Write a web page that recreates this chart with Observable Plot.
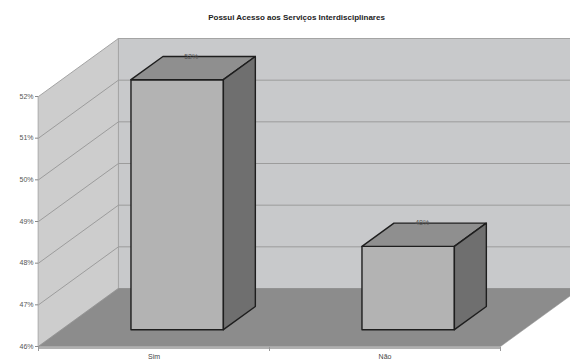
<!DOCTYPE html>
<html>
<head>
<meta charset="utf-8">
<script src="https://cdn.jsdelivr.net/npm/d3@7"></script>
<script src="https://cdn.jsdelivr.net/npm/@observablehq/plot@0.6"></script>
<style>
  html, body { margin: 0; padding: 0; background: #fff; overflow: hidden; }
  svg { display: block; }
</style>
</head>
<body>
<div id="chart"></div>
<script>
// Survey answers: access to interdisciplinary services
const title = "Possui Acesso aos Serviços Interdisciplinares";
const categories = ["Sim", "Não"];
const values = [52, 48];
const yTicks = [46, 47, 48, 49, 50, 51, 52];

// Oblique 3D projection: depth d in [0, 1] shifts right (category units) and up (percent units)
const DX = 0.346;
const DY = 1.392;
const Y0 = yTicks[0];
const YTOP = yTicks[yTicks.length - 1];
const N = categories.length;
const HW = 0.2;          // half width of a bar, in category units
const D0 = 0.29, D1 = 0.69; // bar depth extent
const proj = (x, d, y) => ({x: x + d * DX, y: y + d * DY});

function polygon(id, pts) {
  return pts.map(([x, d, y]) => ({id, ...proj(x, d, y)}));
}

// walls and floor
const backWall = polygon("back", [[0, 1, Y0], [N, 1, Y0], [N, 1, YTOP], [0, 1, YTOP]]);
const sideWall = polygon("side", [[0, 0, Y0], [0, 1, Y0], [0, 1, YTOP], [0, 0, YTOP]]);
const floor = polygon("floor", [[0, 0, Y0], [N, 0, Y0], [N, 1, Y0], [0, 1, Y0]]);

// gridlines run across the side wall and the back wall
const grid = yTicks.slice(1, -1).flatMap(t =>
  [[0, 0, t], [0, 1, t], [N, 1, t]].map(([x, d, y]) => ({t, ...proj(x, d, y)})));

// bar faces
const bars = categories.map((c, i) => ({c, v: values[i], cx: i + 0.5}));
const fronts = bars.flatMap(b => polygon(b.c, [
  [b.cx - HW, D0, Y0], [b.cx + HW, D0, Y0], [b.cx + HW, D0, b.v], [b.cx - HW, D0, b.v]]));
const tops = bars.flatMap(b => polygon(b.c, [
  [b.cx - HW, D0, b.v], [b.cx + HW, D0, b.v], [b.cx + HW, D1, b.v], [b.cx - HW, D1, b.v]]));
const sides = bars.flatMap(b => polygon(b.c, [
  [b.cx + HW, D0, Y0], [b.cx + HW, D1, Y0], [b.cx + HW, D1, b.v], [b.cx + HW, D0, b.v]]));
const labels = bars.map(b => ({text: b.v + "%", ...proj(b.cx, D1, b.v)}));

const poly = {x: "x", y: "y", z: "id", curve: "linear-closed"};

const chart = Plot.plot({
  width: 570,
  height: 363,
  marginLeft: 38,
  marginRight: 70,
  marginTop: 96,
  marginBottom: 17,
  x: {domain: [0, N]},
  y: {domain: [Y0, YTOP]},
  style: {fontFamily: "'Liberation Sans', Arial, sans-serif", background: "#fff", overflow: "hidden"},
  marks: [
    Plot.line(backWall, {...poly, fill: "#c8c9cb", stroke: "#a4a4a4", strokeWidth: 1}),
    Plot.line(sideWall, {...poly, fill: "#cdcdcd", stroke: "#a4a4a4", strokeWidth: 1}),
    Plot.line(grid, {x: "x", y: "y", z: "t", stroke: "#9c9c9c", strokeWidth: 1}),
    Plot.line(floor, {...poly, fill: "#8c8c8c", stroke: "#8c8c8c", strokeWidth: 0.5}),
    Plot.ruleY([Y0], {x1: 0, x2: N, stroke: "#b0b0b0", strokeWidth: 2, dy: 1.5}),
    Plot.line(fronts, {...poly, fill: "#b3b3b3", stroke: "#1e1e1e", strokeWidth: 1.4}),
    Plot.line(tops, {...poly, fill: "#8f8f8f", stroke: "#1e1e1e", strokeWidth: 1.4}),
    Plot.line(sides, {...poly, fill: "#6f6f6f", stroke: "#1e1e1e", strokeWidth: 1.4}),
    Plot.text(labels, {x: "x", y: "y", text: "text", dx: -18, fontSize: 7, fill: "#555"}),
    Plot.axisY(yTicks, {label: null, tickFormat: d => d + "%", tickSize: 3, tickPadding: 2, fontSize: 7, stroke: "#888", fill: "#555"}),
    Plot.axisX([0, 1, 2], {label: null, tickSize: 4, tickFormat: () => "", stroke: "#999", dy: 1}),
    Plot.axisX(bars.map(b => b.cx), {label: null, tickSize: 0, tickPadding: 8, tickFormat: x => categories[Math.floor(x)], fontSize: 7, fill: "#444"}),
    Plot.text([title], {frameAnchor: "top", dx: 27, dy: -82, fontSize: 8, fontWeight: "bold", fill: "#222"})
  ]
});

document.getElementById("chart").append(chart);
</script>
</body>
</html>
